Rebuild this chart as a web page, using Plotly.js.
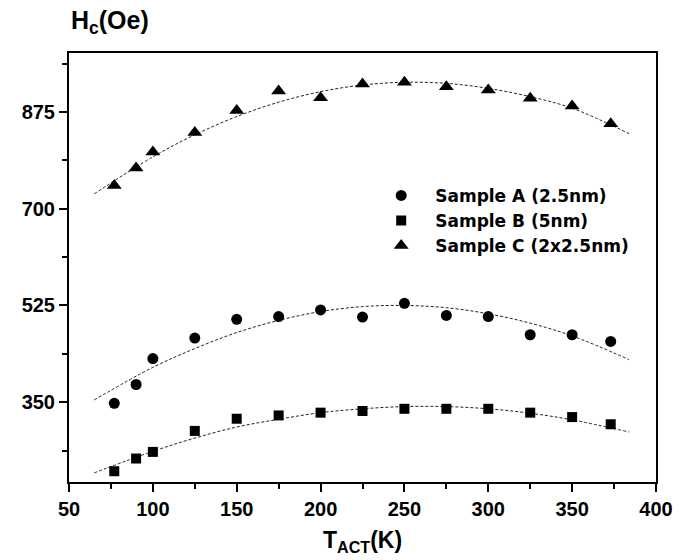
<!DOCTYPE html>
<html>
<head>
<meta charset="utf-8">
<script src="https://cdn.plot.ly/plotly-3.0.1.min.js"></script>
<style>html,body{margin:0;padding:0;background:#fff;}#chart{width:690px;height:560px;}</style>
</head>
<body>
<div id="chart"></div>
<script>
// Measured points
const temps = [77, 90, 100, 125, 150, 175, 200, 225, 250, 275, 300, 325, 350, 373];
const sampleA = [348, 382, 429, 466, 500, 505, 517, 504, 529, 507, 505, 472, 472, 460];
const sampleB = [225, 248, 260, 298, 320, 326, 331, 334, 338, 338, 338, 331, 323, 310];
const sampleC = [742, 774, 803, 838, 878, 913, 901, 926, 929, 921, 915, 900, 886, 854];

// Dashed fit curves
const fitT = [65, 100, 125, 150, 175, 200, 225, 250, 275, 300, 325, 350, 384];
const fitA = [354, 413, 447, 476, 498, 514, 523, 525, 521, 510, 493, 470, 427];
const fitB = [222, 261, 285, 305, 319, 331, 338, 342, 342, 338, 330, 318, 296];
const fitC = [727, 794, 834, 867, 893, 912, 924, 929, 927, 918, 903, 882, 836];

const names = ['Sample A (2.5nm)', 'Sample B (5nm)', 'Sample C (2x2.5nm)'];
const xTitle = 'T<sub>ACT</sub>(K)';
const yTitle = 'H<sub>c</sub>(Oe)';

const FONT = 'Liberation Sans, Arial, sans-serif';
const LFONT = 'DejaVu Sans, Liberation Sans, sans-serif';

function fit(y) {
  return {x: fitT, y: y, mode: 'lines', type: 'scatter', showlegend: false, hoverinfo: 'skip',
    line: {color: '#222', width: 1, dash: '3px,2px', shape: 'spline'}};
}
function pts(y, name, sym, size) {
  return {x: temps, y: y, name: name, mode: 'markers', type: 'scatter',
    marker: {symbol: sym, size: size, color: '#000'}};
}

const data = [
  fit(fitA), fit(fitB), fit(fitC),
  pts(sampleA, names[0], 'circle', 11),
  pts(sampleB, names[1], 'square', 10),
  pts(sampleC, names[2], 'triangle-up', 13)
];

const axisCommon = {
  showgrid: false, zeroline: false, showline: true, mirror: true,
  linecolor: '#000', linewidth: 2, ticks: 'outside', ticklen: 8, tickwidth: 2, tickcolor: '#000',
  tickfont: {family: FONT, size: 20, color: '#000', weight: 'bold'}
};

const layout = {
  width: 690, height: 560,
  margin: {l: 69, r: 34, t: 53, b: 78},
  paper_bgcolor: '#fff', plot_bgcolor: '#fff',
  font: {family: FONT, color: '#000'},
  xaxis: Object.assign({}, axisCommon, {
    range: [50, 400], tickmode: 'linear', tick0: 50, dtick: 50,
    minor: {dtick: 25, ticklen: 5, tickwidth: 2, tickcolor: '#000', ticks: 'outside', showgrid: false}
  }),
  yaxis: Object.assign({}, axisCommon, {
    range: [205.5, 982], tickmode: 'linear', tick0: 0, dtick: 175,
    minor: {dtick: 87.5, ticklen: 5, tickwidth: 2, tickcolor: '#000', ticks: 'outside', showgrid: false}
  }),
  showlegend: true,
  legend: {
    x: 0.508, y: 0.709, xanchor: 'left', yanchor: 'top',
    bgcolor: 'rgba(0,0,0,0)', borderwidth: 0, itemwidth: 58,
    font: {family: LFONT, size: 17, color: '#000', weight: 'bold'},
    tracegroupgap: 0
  },
  annotations: [
    {text: yTitle, xref: 'paper', yref: 'paper', x: 0, y: 1.0716, xanchor: 'left', yanchor: 'middle',
     showarrow: false, font: {family: FONT, size: 25, color: '#000', weight: 'bold'}},
    {text: xTitle, xref: 'paper', yref: 'paper', x: 0.5, y: -0.139, xanchor: 'center', yanchor: 'middle',
     showarrow: false, font: {family: FONT, size: 23, color: '#000', weight: 'bold'}}
  ]
};

Plotly.newPlot('chart', data, layout, {displayModeBar: false, staticPlot: true});
</script>
</body>
</html>
